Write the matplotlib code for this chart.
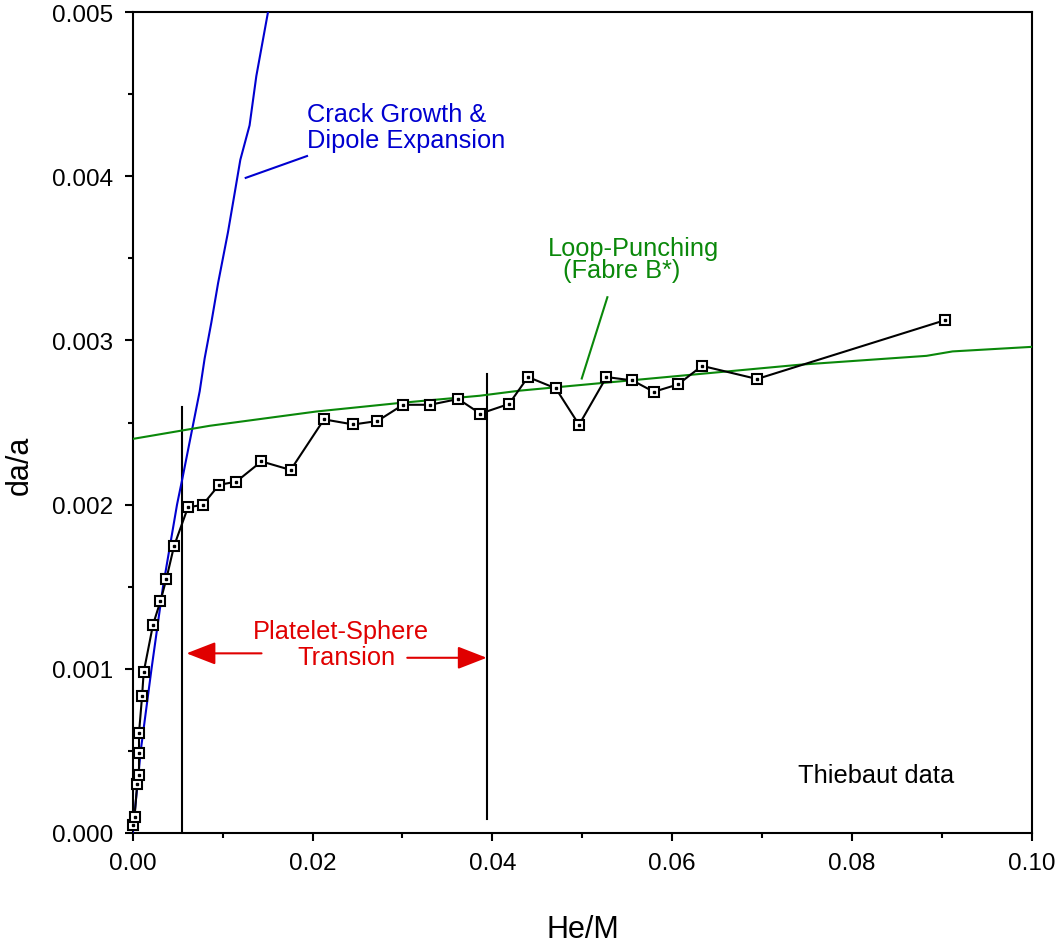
import matplotlib
matplotlib.use("Agg")
import matplotlib.pyplot as plt
from matplotlib.ticker import MultipleLocator, FormatStrFormatter

plt.rcParams['font.family'] = ['Liberation Sans', 'DejaVu Sans']

# Thiebaut data (He/M, da/a)
he_m = [0.0000, 0.0002, 0.0005, 0.0007, 0.0007, 0.0007, 0.00104, 0.00122,
        0.00226, 0.00308, 0.00374, 0.0046, 0.00615, 0.00778, 0.0096, 0.01153,
        0.01432, 0.01757, 0.02128, 0.02454, 0.02722, 0.03007, 0.03308, 0.0362,
        0.03867, 0.04186, 0.04397, 0.04706, 0.04965, 0.0527, 0.05559, 0.05796,
        0.06066, 0.06333, 0.06945, 0.0904]
da_a = [0.000049, 0.000096, 0.000298, 0.000353, 0.000487, 0.000609, 0.000832,
        0.000979, 0.001269, 0.001411, 0.001547, 0.001748, 0.001984, 0.001998,
        0.00212, 0.00214, 0.002263, 0.002211, 0.002519, 0.002488, 0.002509,
        0.002608, 0.002608, 0.002643, 0.002554, 0.002613, 0.002777, 0.002708,
        0.002486, 0.002777, 0.002756, 0.002687, 0.002732, 0.002845, 0.002765,
        0.003124]

# crack growth & dipole expansion model
crack_x = [0.0, 0.00089, 0.00208, 0.00337, 0.00493, 0.00553, 0.00745, 0.008,
           0.00875, 0.0095, 0.0106, 0.01135, 0.01197, 0.0130, 0.01375, 0.01505]
crack_y = [0.0, 0.0005, 0.000995, 0.0015, 0.002, 0.00216, 0.00269, 0.00289,
           0.00311, 0.00335, 0.00366, 0.0039, 0.0041, 0.00431, 0.00461, 0.005]

# loop-punching model (Fabre B*)
loop_x = [0.0, 0.00857, 0.02043, 0.0297, 0.0386, 0.04305, 0.0742, 0.0883,
          0.0912, 0.1001]
loop_y = [0.00240, 0.00248, 0.002567, 0.002619, 0.002663, 0.002694, 0.002852,
          0.002906, 0.002933, 0.002961]

# transition bounds
trans_x = [0.00552, 0.03938]
trans_top = [0.002594, 0.002795]
trans_bottom = [0.0, 0.0000853]

blue = '#0000d0'
green = '#0a880a'
red = '#e00000'
fs = 18.3

fig = plt.figure(figsize=(10.6, 9.45), dpi=100)
ax = fig.add_axes([0.1252, 0.1175, 0.8481, 0.8687])

ax.plot(crack_x, crack_y, color=blue, lw=1.5, zorder=3)
ax.plot(loop_x, loop_y, color=green, lw=1.5, zorder=3)
ax.plot(he_m, da_a, color='black', lw=1.5, marker='s', ms=6.8,
        mfc='white', mec='black', mew=1.5, zorder=4, clip_on=False)
ax.plot(he_m, da_a, ls='none', marker='s', ms=1.5, color='black', zorder=5,
        clip_on=False)

for xv, y0, y1 in zip(trans_x, trans_bottom, trans_top):
    ax.plot([xv, xv], [y0, y1], color='black', lw=1.5, zorder=2)

# annotations
ax.plot([0.01257, 0.01939], [0.00399, 0.004123], color=blue, lw=1.5)
ax.text(0.01935, 0.004336, "Crack Growth &", color=blue, fontsize=fs,
        ha='left', va='baseline')
ax.text(0.01935, 0.004178, "Dipole Expansion", color=blue, fontsize=fs,
        ha='left', va='baseline')

ax.plot([0.04995, 0.0528], [0.002768, 0.003263], color=green, lw=1.5)
ax.text(0.0462, 0.00352, "Loop-Punching", color=green, fontsize=fs,
        ha='left', va='baseline')
ax.text(0.04786, 0.003386, "(Fabre B*)", color=green, fontsize=fs,
        ha='left', va='baseline')

ax.text(0.01339, 0.001186, "Platelet-Sphere", color=red, fontsize=fs,
        ha='left', va='baseline')
ax.text(0.01828, 0.001029, "Transion", color=red, fontsize=fs,
        ha='left', va='baseline')
ax.annotate("", xy=(0.00598, 0.001094), xytext=(0.01433, 0.001094),
            arrowprops=dict(arrowstyle='-|>,head_length=0.9,head_width=0.35',
                            color=red, lw=1.5, mutation_scale=20,
                            shrinkA=0, shrinkB=0))
ax.annotate("", xy=(0.03938, 0.001067), xytext=(0.03054, 0.001067),
            arrowprops=dict(arrowstyle='-|>,head_length=0.9,head_width=0.35',
                            color=red, lw=1.5, mutation_scale=20,
                            shrinkA=0, shrinkB=0))

ax.text(0.07401, 0.000309, "Thiebaut data", color='black', fontsize=fs,
        ha='left', va='baseline')

ax.set_xlim(0, 0.1)
ax.set_ylim(0, 0.005)
ax.xaxis.set_major_locator(MultipleLocator(0.02))
ax.xaxis.set_minor_locator(MultipleLocator(0.01))
ax.yaxis.set_major_locator(MultipleLocator(0.001))
ax.yaxis.set_minor_locator(MultipleLocator(0.0005))
ax.xaxis.set_major_formatter(FormatStrFormatter('%.2f'))
ax.yaxis.set_major_formatter(FormatStrFormatter('%.3f'))
ax.tick_params(which='both', direction='out', labelsize=17.5, width=1.5,
               top=False, right=False)
ax.tick_params(which='major', length=6, pad=8)
ax.tick_params(which='minor', length=3.5)
for s in ax.spines.values():
    s.set_linewidth(1.5)

# axis titles placed in figure coordinates, as in the original
fig.text(583 / 1060, 1 - 938 / 945, "He/M", fontsize=22, ha='center',
         va='baseline')
fig.text(20 / 1060, 1 - 465 / 945, "da/a", fontsize=22, ha='center',
         va='center', rotation=90)

fig.savefig("out.png", dpi=100)
